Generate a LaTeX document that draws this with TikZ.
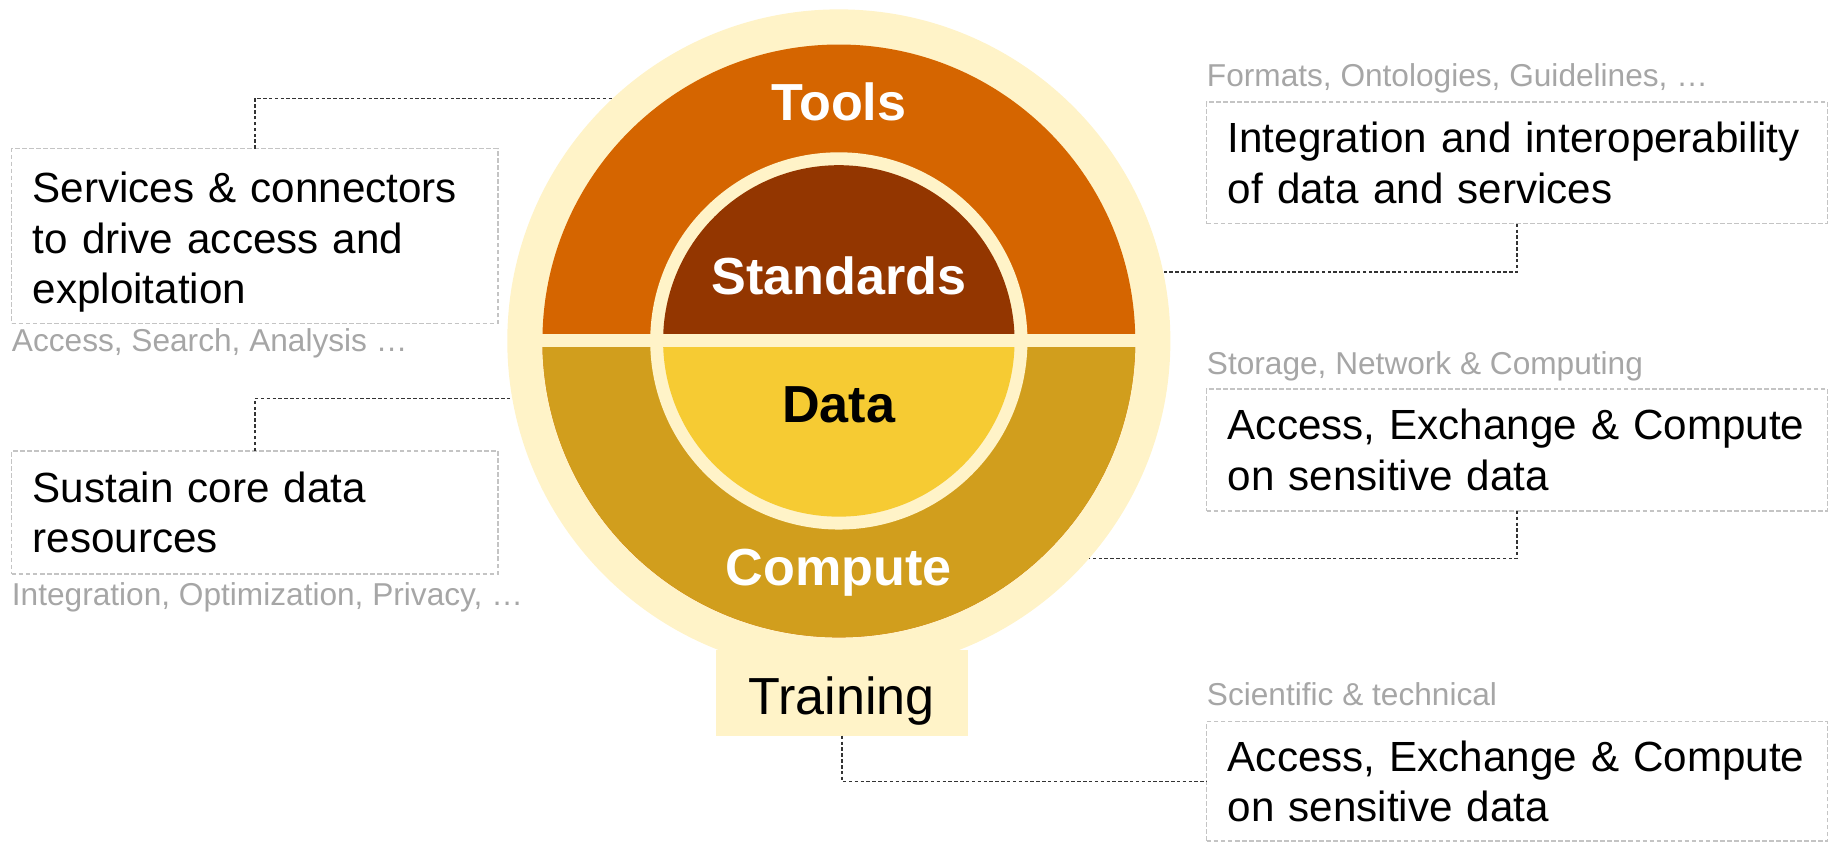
\documentclass[tikz,border=0pt]{standalone}
\usepackage{fontspec}
\setmainfont{Liberation Sans}
\definecolor{halo}{HTML}{FFF3C8}
\definecolor{tools}{HTML}{D56500}
\definecolor{standards}{HTML}{933600}
\definecolor{compute}{HTML}{D19E1D}
\definecolor{data}{HTML}{F6CB33}
\definecolor{hintgray}{HTML}{A6A6A6}
\definecolor{boxgray}{HTML}{C4C4C4}
\definecolor{linkgray}{HTML}{333333}
\newcommand{\nohyph}{\hyphenpenalty=10000\relax}
\tikzset{
  textbox/.style={rectangle, draw=boxgray, dash pattern=on 4pt off 2pt, line width=1.2pt,
    anchor=north west, inner xsep=18pt, inner ysep=0pt, outer sep=0pt, align=left,
    font=\fontsize{36}{43}\selectfont\nohyph},
  hint/.style={anchor=base west, text=hintgray, inner sep=0pt, font=\fontsize{27}{32}\selectfont},
  layerlabel/.style={anchor=base, inner sep=0pt, font=\fontsize{44.5}{53}\selectfont\bfseries},
  link/.style={draw=linkgray, dash pattern=on 3pt off 2pt, line width=1.3pt}
}

\begin{document}
\begin{tikzpicture}[x=1pt, y=1pt]
            \useasboundingbox (0,0) rectangle (1568,-719);

            % the onion
            \node[circle, fill=halo, minimum size=566pt, inner sep=0pt, outer sep=0pt] (halo) at (716,-291) {};
            \node[fill=halo, minimum width=215pt, minimum height=73pt, inner sep=0pt, outer sep=0pt,
                  text height=37pt, text depth=0pt, font=\fontsize{44.5}{53}\selectfont] (T) at (718.5,-591.5) {Training};
            \fill[tools] (716,-291) circle[radius=253];
            \fill[compute] (463,-291) arc[start angle=180, end angle=360, radius=253] -- cycle;
            \fill[halo] (716,-291) circle[radius=161];
            \fill[standards] (566,-291) arc[start angle=180, end angle=0, radius=150] -- cycle;
            \fill[data] (566,-291) arc[start angle=180, end angle=360, radius=150] -- cycle;
            \fill[halo] (455,-285.5) rectangle (977,-296.5);

            \node[layerlabel, text=white] (L_1) at (716,-103) {Tools};
            \node[layerlabel, text=white] (L_2) at (716,-251) {Standards};
            \node[layerlabel] (L_3) at (716,-361) {Data};
            \node[layerlabel, text=white] (L_4) at (716,-500) {Compute};

            % boxes and hints
            \node[textbox, text width=379pt, minimum height=149pt] (B_1) at (10,-127) {\rule{0pt}{37pt}Services \& connectors\\to drive access and\\exploitation};
            \node[textbox, text width=379pt, minimum height=105pt] (B_2) at (10,-385) {Sustain core data\\resources};
            \node[textbox, text width=494pt, minimum height=104pt] (B_3) at (1030,-87) {Integration and interoperability\\of data and services};
            \node[textbox, text width=494pt, minimum height=104pt] (B_4) at (1030,-332) {Access, Exchange \& Compute\\on sensitive data};
            \node[textbox, text width=494pt, minimum height=102pt] (B_5) at (1030,-616) {Access, Exchange \& Compute\\on sensitive data};

            \node[hint] (H_1) at (10,-300) {Access, Search, Analysis …};
            \node[hint] (H_2) at (10,-517) {Integration, Optimization, Privacy, …};
            \node[hint] (H_3) at (1030,-74) {Formats, Ontologies, Guidelines, …};
            \node[hint] (H_4) at (1030,-320) {Storage, Network \& Computing};
            \node[hint] (H_5) at (1030,-602) {Scientific \& technical};

            \draw[link] (B_1.north) |- (halo.133.1);
            \draw[link] (B_2.north) |- (halo.190.4);
            \draw[link] (B_3.south) |- (halo.12);
            \draw[link] (B_4.south) |- (halo.-41.6);
            \draw[link] (T.south) |- (B_5.west);
\end{tikzpicture}
\end{document}
